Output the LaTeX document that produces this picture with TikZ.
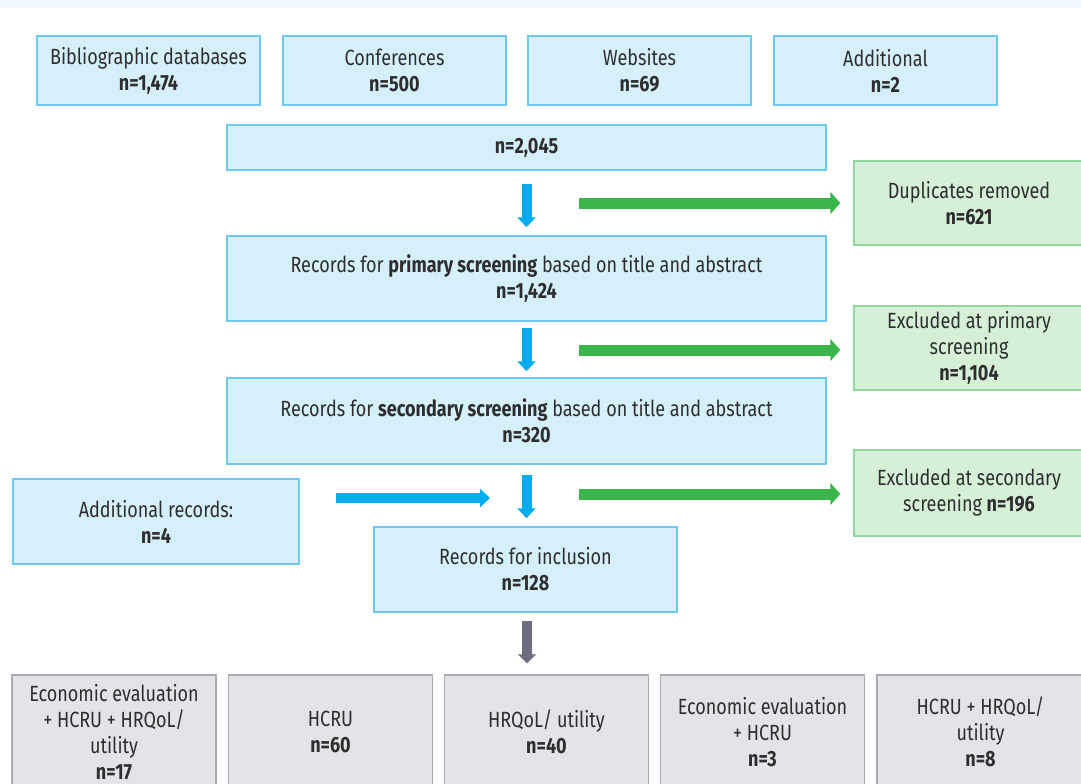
\documentclass[tikz,border=0pt]{standalone}
\usepackage{fontspec}
\setmainfont[FakeStretch=0.82]{Fira Sans}
\usetikzlibrary{arrows.meta}

\definecolor{boxblue}{HTML}{D5F0FA}
\definecolor{lineblue}{HTML}{6CCAEE}
\definecolor{arrowblue}{HTML}{00AEEF}
\definecolor{boxgreen}{HTML}{D6F0D8}
\definecolor{linegreen}{HTML}{8FD79B}
\definecolor{arrowgreen}{HTML}{39B54A}
\definecolor{boxgray}{HTML}{E3E3E8}
\definecolor{linegray}{HTML}{A9A9B1}
\definecolor{arrowgray}{HTML}{6D6D80}
\definecolor{textgray}{HTML}{2E2E2E}
\definecolor{bandblue}{HTML}{EFF8FD}

\tikzset{
  basebox/.style={line width=0.75pt, align=center, inner sep=0pt, text=textgray,
    font=\fontsize{11}{13}\selectfont},
  bluebox/.style={basebox, draw=lineblue, fill=boxblue},
  greenbox/.style={basebox, draw=linegreen, fill=boxgreen, minimum width=115pt, minimum height=42pt},
  graybox/.style={basebox, draw=linegray, fill=boxgray, minimum width=102pt, minimum height=57pt},
  srcbox/.style={bluebox, minimum width=111.5pt, minimum height=34.5pt},
  widebox/.style={bluebox, minimum width=299.5pt, minimum height=42.5pt},
  bluearrow/.style={draw=arrowblue, line width=5pt, -{Triangle[width=9pt,length=5pt]}},
  greenarrow/.style={draw=arrowgreen, line width=5.5pt, -{Triangle[width=11pt,length=5pt]}},
  grayarrow/.style={draw=arrowgray, line width=5pt, -{Triangle[width=9pt,length=4.5pt]}}
}

\begin{document}
\begin{tikzpicture}[x=0.5pt, y=-0.5pt]
  \useasboundingbox (0,0) rectangle (1081,783);
  \clip (0,0) rectangle (1081,783);
  \fill[bandblue] (0,0) rectangle (1081,8);

  % sources
  \node[srcbox] (bib) at (148.5,70.5) {Bibliographic databases\\\textbf{n=1,474}};
  \node[srcbox] (conf) at (394.5,70.5) {Conferences\\\textbf{n=500}};
  \node[srcbox] (web) at (639.5,70.5) {Websites\\\textbf{n=69}};
  \node[srcbox] (add) at (885.5,70.5) {Additional\\\textbf{n=2}};

  % screening
  \node[widebox, minimum height=22.5pt] (total) at (526.5,147.5) {\textbf{n=2,045}};
  \node[widebox] (primary) at (526.5,278.5) {Records for \textbf{primary screening} based on title and abstract\\\textbf{n=1,424}};
  \node[widebox, minimum height=43pt] (secondary) at (526.5,421) {Records for \textbf{secondary screening} based on title and abstract\\\textbf{n=320}};
  \node[bluebox, minimum width=143pt, minimum height=42.5pt] (addrec) at (156,521.5) {Additional records:\\\textbf{n=4}};
  \node[bluebox, minimum width=151.5pt, minimum height=42.5pt] (inclusion) at (525.5,569.5) {Records for inclusion\\\textbf{n=128}};

  % exclusions
  \node[greenbox] (dup) at (969,203) {Duplicates removed\\\textbf{n=621}};
  \node[greenbox] (exclprim) at (969,348) {Excluded at primary\\screening\\\textbf{n=1,104}};
  \node[greenbox, minimum height=43pt] (exclsec) at (969,493) {Excluded at secondary\\screening \textbf{n=196}};

  % outcomes
  \node[graybox] (out1) at (114,732) {Economic evaluation\\+ HCRU + HRQoL/\\utility\\\textbf{n=17}};
  \node[graybox] (out2) at (330.5,732) {HCRU\\\textbf{n=60}};
  \node[graybox] (out3) at (546.5,732) {HRQoL/ utility\\\textbf{n=40}};
  \node[graybox] (out4) at (762.5,732) {Economic evaluation\\+ HCRU\\\textbf{n=3}};
  \node[graybox, minimum width=103.5pt] (out5) at (980.5,732) {HCRU + HRQoL/\\utility\\\textbf{n=8}};

  % arrows
  \coordinate (g1) at (579,203);
  \coordinate (g2) at (579,350);
  \coordinate (g3) at (579,494);
  \coordinate (a1) at (336,498);
  \coordinate (a2) at (490,498);

  \draw[bluearrow, shorten <=6.5pt, shorten >=4pt] (total) -- (primary);
  \draw[bluearrow, shorten <=3pt, shorten >=3pt] (primary) -- (secondary);
  \draw[bluearrow, shorten <=5pt, shorten >=4pt] (secondary.south) -- (secondary.south |- inclusion.north);
  \draw[bluearrow] (a1) -- (a2);
  \draw[greenarrow, shorten >=6.5pt] (g1) -- (dup.west);
  \draw[greenarrow, shorten >=6.5pt] (g2) -- (g2 -| exclprim.west);
  \draw[greenarrow, shorten >=6.5pt] (g3) -- (g3 -| exclsec.west);
  \draw[grayarrow, shorten <=4pt, shorten >=5.5pt] ([xshift=0.75pt]inclusion.south) -- ([xshift=0.75pt]inclusion.south |- out3.north);
\end{tikzpicture}
\end{document}
